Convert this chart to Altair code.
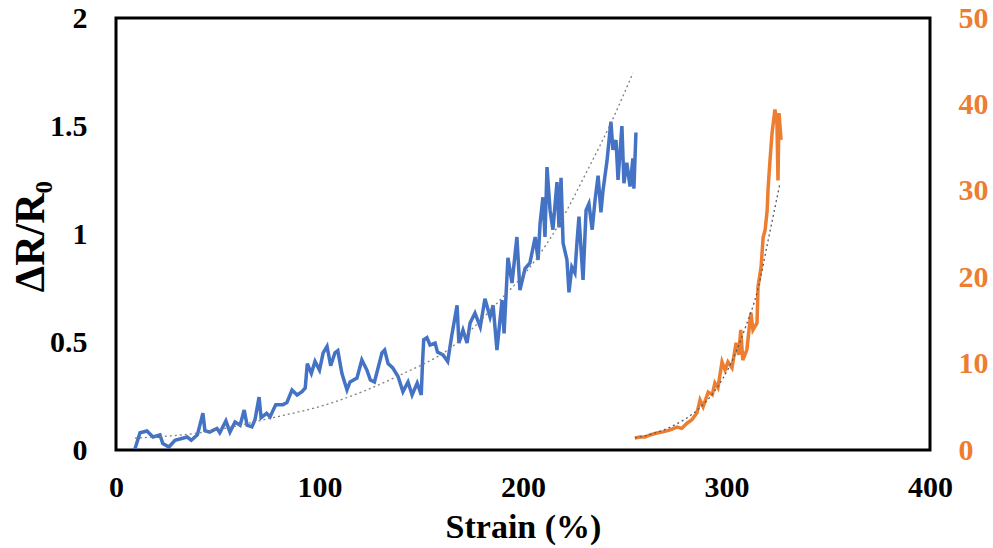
import altair as alt
import pandas as pd

# Strain sweep of the first sample (left axis, ΔR/R0)
blue_strain = [9.3, 11.8, 15.2, 18.2, 21.6, 23, 26, 29, 35, 37, 40, 42.7, 43.7, 46, 49.6,
               51, 54, 56, 58.5, 61, 63, 64.4, 66.8, 68.3, 70.3, 71.3, 74, 75.7, 77, 78.5,
               82, 84, 86.5, 89, 91.4, 93, 94, 96, 97.8, 100, 101.8, 103.7, 105.5, 107.6,
               109, 111, 113.5, 115, 118.4, 120.8, 123.3, 125, 127, 130.7, 132, 133.7, 136,
               138.6, 141, 143.5, 145.5, 148, 150, 150.6, 151.2, 152.8, 154.3, 156.8, 158,
               160.7, 163, 165, 167.6, 168.5, 170.5, 172.5, 174, 176.4, 179, 181.3, 183.8,
               185.3, 187.2, 189.7, 190.7, 192.6, 194.6, 197, 198.5, 201, 203.4, 206, 207.4,
               208.4, 209.8, 210.8, 211.8, 213.3, 214.7, 216.7, 217.7, 218.7, 219.7, 221.6,
               222.6, 224, 225.5, 226.5, 227.5, 229.5, 231, 232.4, 234, 235.4, 236.9, 238.3,
               239.3, 241.3, 242.3, 243.2, 244.2, 245.7, 246.7, 248.6, 249.6, 251, 252.6,
               254, 254.5, 255.5]
blue_dr = [0.005, 0.08, 0.088, 0.06, 0.07, 0.03, 0.014, 0.045, 0.06, 0.045, 0.07, 0.17, 0.09,
           0.083, 0.10, 0.08, 0.135, 0.083, 0.13, 0.115, 0.185, 0.115, 0.107, 0.14, 0.245,
           0.15, 0.17, 0.153, 0.18, 0.21, 0.21, 0.22, 0.278, 0.255, 0.27, 0.287, 0.40, 0.355,
           0.41, 0.37, 0.45, 0.48, 0.39, 0.45, 0.46, 0.355, 0.278, 0.315, 0.333, 0.417, 0.37,
           0.324, 0.315, 0.45, 0.463, 0.40, 0.38, 0.34, 0.27, 0.315, 0.255, 0.31, 0.255, 0.40,
           0.51, 0.52, 0.486, 0.495, 0.453, 0.44, 0.41, 0.53, 0.67, 0.495, 0.555, 0.495,
           0.588, 0.634, 0.57, 0.70, 0.616, 0.67, 0.463, 0.694, 0.54, 0.89, 0.773, 0.986,
           0.74, 0.84, 0.866, 0.986, 0.88, 1.05, 1.17, 0.986, 1.31, 1.11, 1.02, 1.24, 1.03,
           1.26, 0.958, 0.88, 0.73, 0.847, 0.82, 0.958, 1.08, 0.787, 1.11, 1.14, 1.02, 1.157,
           1.27, 1.10, 1.20, 1.34, 1.435, 1.52, 1.39, 1.435, 1.25, 1.50, 1.235, 1.33, 1.22,
           1.35, 1.21, 1.47]

# Exponential trend line of the first sample
blue_trend_strain = [9.3, 41.3, 74, 106.6, 139.6, 164, 188.7, 205, 218, 231.4, 244, 254]
blue_trend_dr = [0.055, 0.08, 0.143, 0.22, 0.347, 0.47, 0.694, 0.866, 1.05, 1.29, 1.53, 1.745]

# Second sample (right axis, ΔR/R0)
orange_strain = [255, 257.5, 260, 262.4, 265.8, 268.8, 272, 275.7, 278, 280.6, 283, 285.5,
                 287, 288.5, 291, 293, 294.3, 295.8, 297.8, 299.3, 300.7, 302.7, 304.7, 306,
                 307, 308, 310, 312, 313, 315, 315.5, 317, 318, 319, 320, 320.4, 321.4, 322.4,
                 323.8, 324.8, 325.3, 325.8, 326.8]
orange_dr = [1.39, 1.5, 1.5, 1.74, 1.97, 2.1, 2.3, 2.66, 2.5, 3.1, 3.5, 4.3, 5.8, 5.0, 6.7,
             6.4, 7.75, 7.2, 10.2, 9.26, 10.2, 9.5, 12.4, 11, 13.9, 10.4, 11.6, 15.9, 13.9,
             14.7, 18.9, 21.2, 24.6, 25.5, 27.8, 30.1, 33.6, 36.7, 39.4, 37.8, 31.2, 39, 35.9]

# Exponential trend line of the second sample
orange_trend_strain = [255, 264, 273.7, 285.5, 295.3, 301.7, 309, 315.5, 320.4, 326.3]
orange_trend_dr = [1.4, 1.9, 2.8, 4.6, 7.2, 9.8, 14.0, 18.7, 24.2, 30.9]

x_ticks = [0, 100, 200, 300, 400]
left_ticks = [0, 0.5, 1, 1.5, 2]
right_ticks = [0, 10, 20, 30, 40, 50]

BLUE = "#4472C4"
ORANGE = "#ED7D31"
TREND = "#7F7F7F"
FONT = "Liberation Serif"

blue_df = pd.DataFrame({"strain": blue_strain, "dr": blue_dr})
blue_trend_df = pd.DataFrame({"strain": blue_trend_strain, "dr": blue_trend_dr})
orange_df = pd.DataFrame({"strain": orange_strain, "dr": orange_dr})
orange_trend_df = pd.DataFrame({"strain": orange_trend_strain, "dr": orange_trend_dr})

x_scale = alt.Scale(domain=[0, 400], nice=False)
left_scale = alt.Scale(domain=[0, 2], nice=False)
right_scale = alt.Scale(domain=[0, 50], nice=False)

x_enc = alt.X(
    "strain:Q",
    scale=x_scale,
    axis=alt.Axis(
        values=x_ticks, title="Strain (%)", grid=False, ticks=False, tickSize=0,
        domain=False, labelFont=FONT, labelFontWeight="bold", labelFontSize=30,
        labelColor="black", labelPadding=22, labelFlush=False,
        titleFont=FONT, titleFontWeight="bold", titleFontSize=34, titleColor="black",
        titleX=407, titleY=77, titleBaseline="middle", titleAlign="center",
    ),
)

blue_line = alt.Chart(blue_df).mark_line(color=BLUE, strokeWidth=3.5).encode(
    x=x_enc,
    y=alt.Y(
        "dr:Q", scale=left_scale,
        axis=alt.Axis(
            values=left_ticks, format=".1~f", title="ΔR/R₀", grid=False, ticks=False,
            tickSize=0, domain=False, labelFont=FONT, labelFontWeight="bold",
            labelFontSize=30, labelColor="black", labelPadding=29, labelFlush=False,
            titleFont=FONT, titleFontWeight="bold", titleFontSize=42, titleColor="black",
            titleX=-86, titleY=218, titleAngle=270, titleBaseline="middle",
            titleAlign="center",
        ),
    ),
)

blue_trend = alt.Chart(blue_trend_df).mark_line(
    color=TREND, strokeWidth=1.3, strokeDash=[2, 3], interpolate="monotone"
).encode(
    x=alt.X("strain:Q", scale=x_scale),
    y=alt.Y("dr:Q", scale=left_scale),
)

orange_line = alt.Chart(orange_df).mark_line(color=ORANGE, strokeWidth=3.5).encode(
    x=alt.X("strain:Q", scale=x_scale),
    y=alt.Y(
        "dr:Q", scale=right_scale,
        axis=alt.Axis(
            orient="right", values=right_ticks, title=None, grid=False, ticks=False,
            tickSize=0, domain=False, labelFont=FONT, labelFontWeight="bold",
            labelFontSize=30, labelColor=ORANGE, labelPadding=28, labelFlush=False,
        ),
    ),
)

orange_trend = alt.Chart(orange_trend_df).mark_line(
    color="#595959", strokeWidth=1.3, strokeDash=[2, 3], interpolate="monotone"
).encode(
    x=alt.X("strain:Q", scale=x_scale),
    y=alt.Y("dr:Q", scale=right_scale),
)

left = alt.layer(blue_line, blue_trend)
right = alt.layer(orange_line, orange_trend)

chart = (
    alt.layer(left, right)
    .resolve_scale(y="independent")
    .properties(
        width=814, height=432,
        autosize=alt.AutoSizeParams(type="none"),
        padding={"left": 116, "top": 18, "right": 63, "bottom": 98},
        background="white",
    )
    .configure_view(stroke="black", strokeWidth=3)
)

chart.save("out.html", embed_options={"renderer": "svg", "actions": False})
